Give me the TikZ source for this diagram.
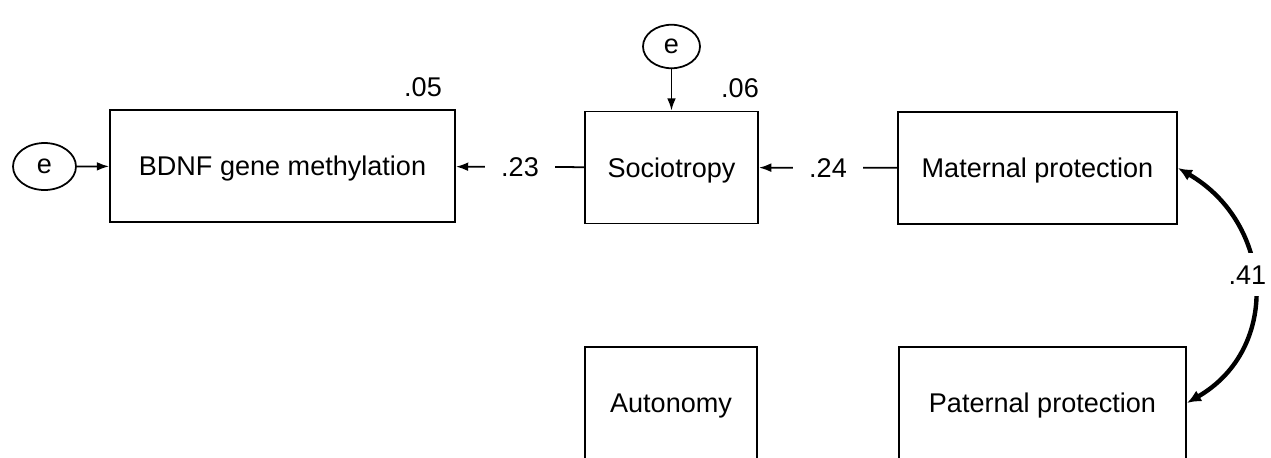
\documentclass[tikz,border=0pt]{standalone}
\usepackage{fontspec}
\setmainfont{Liberation Sans}
\usetikzlibrary{shapes.geometric,arrows.meta}
\begin{document}
\begin{tikzpicture}[x=0.02cm,y=-0.02cm,font=\fontsize{15.4}{18}\selectfont,
  var/.style={draw,line width=1.1pt,minimum height=2.24cm,inner sep=0pt,text depth=0pt},
  err/.style={draw,ellipse,line width=1pt,inner sep=0pt},
  reg/.style={line width=1pt,-{Latex[length=7pt,width=5pt]}},
  cov/.style={line width=2.5pt,{Latex[length=8pt,width=7pt]}-{Latex[length=8pt,width=7pt]}},
  coef/.style={fill=white,inner xsep=9pt,inner ysep=2pt}]
\useasboundingbox (0,0) rectangle (1271,457);
\clip (0,0) rectangle (1271,457);
\path
node[var,minimum width=6.9cm] (bdnf) at (282.5,166) {BDNF gene methylation}
node[var,minimum width=3.46cm] (soc) at (671.5,167.5) {Sociotropy}
node[var,minimum width=5.58cm] (mat) at (1037.5,168) {Maternal protection}
node[var,minimum width=3.44cm] (aut) at (671,403) {Autonomy}
node[var,minimum width=5.74cm] (pat) at (1042.5,403) {Paternal protection}
node[err,minimum width=1.26cm,minimum height=0.94cm] (ebdnf) at (44.5,166.5) {e}
node[err,minimum width=1.14cm,minimum height=0.87cm] (esoc) at (671.5,46.5) {e}
node (rbdnf) at (423,87) {.05}
node (rsoc) at (740,88) {.06};
\draw[reg] (ebdnf) -- (bdnf);
\draw[reg] (esoc) -- (soc);
\draw[reg] (soc) -- node[coef]{.23} (bdnf);
\draw[reg] (mat) -- node[coef]{.24} (soc);
\draw[cov] (mat.east) .. controls +(95,55) and +(95,-55) .. (pat.east)
  node[pos=0.46,fill=white,inner xsep=1pt,inner ysep=7pt,xshift=-3pt] (r41) {.41};
\end{tikzpicture}
\end{document}
